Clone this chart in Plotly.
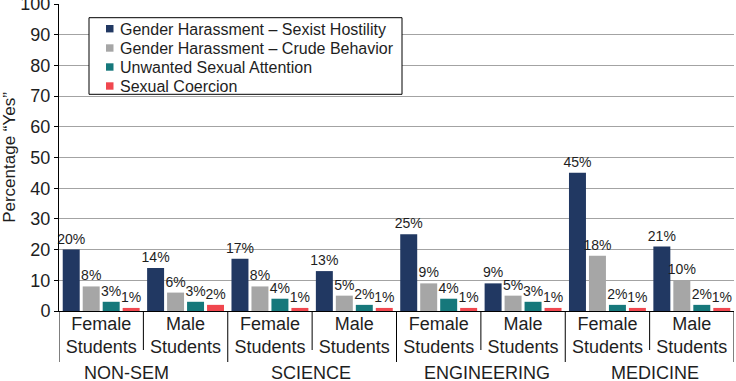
import plotly.graph_objects as go

# ---- data ----
subgroups = ["Female<br>Students", "Male<br>Students"] * 4
fields = ["NON-SEM", "SCIENCE", "ENGINEERING", "MEDICINE"]
series_names = [
    "Gender Harassment – Sexist Hostility",
    "Gender Harassment – Crude Behavior",
    "Unwanted Sexual Attention",
    "Sexual Coercion",
]
sexist_hostility = [20, 14, 17, 13, 25, 9, 45, 21]
crude_behavior = [8, 6, 8, 5, 9, 5, 18, 10]
unwanted_attention = [3, 3, 4, 2, 4, 3, 2, 2]
sexual_coercion = [1, 2, 1, 1, 1, 1, 1, 1]
y_ticks = list(range(0, 101, 10))

# ---- style ----
colors = ["#213862", "#a6a6a6", "#16787b", "#f0474f"]
FONT = "Liberation Sans, Arial, sans-serif"
TXT = "#1e1e1e"
W, H = 736, 381
ML, MR, MT, MB = 59, 2, 4, 70
PW, PH = W - ML - MR, H - MT - MB


def px_x(p):  # page pixel -> paper x
    return (p - ML) / PW


def px_y(p):  # page pixel -> paper y
    return (H - MB - p) / PH


x_pos = list(range(len(subgroups)))
series = [sexist_hostility, crude_behavior, unwanted_attention, sexual_coercion]

fig = go.Figure()
for name, vals, col in zip(series_names, series, colors):
    fig.add_trace(go.Bar(
        x=x_pos, y=vals, name=name, marker=dict(color=col, line=dict(width=0)),
        texttemplate="%{y}%", textposition="outside", constraintext="none",
        cliponaxis=False, textfont=dict(size=14, color=TXT, family=FONT),
        showlegend=False, hoverinfo="skip",
    ))

shapes = []
annotations = []
# separators on the category axis
for i in range(len(subgroups) + 1):
    xv = i - 0.5
    major = (i % 2 == 0)
    shapes.append(dict(type="line", xref="x", yref="paper", x0=xv, x1=xv,
                       y0=0, y1=px_y(362) if major else px_y(350),
                       line=dict(color="black", width=1)))

group_centers = [0.30, 2.49, 4.57, 6.56]
for c, f in zip(group_centers, fields):
    annotations.append(dict(x=c, y=px_y(372.5), xref="x", yref="paper", text=f,
                            showarrow=False, xanchor="center", yanchor="middle",
                            font=dict(size=18, color=TXT, family=FONT)))

# legend box
shapes.append(dict(type="rect", xref="paper", yref="paper",
                   x0=px_x(89), x1=px_x(402), y0=px_y(94.3), y1=px_y(17.7),
                   fillcolor="white", line=dict(color="black", width=1), layer="above"))
row_centers = [28.7, 48, 67, 86]
for name, col, rc in zip(series_names, colors, row_centers):
    shapes.append(dict(type="rect", xref="paper", yref="paper",
                       x0=px_x(106), x1=px_x(113.5), y0=px_y(rc + 3.7), y1=px_y(rc - 3.7),
                       fillcolor=col, line=dict(width=0), layer="above"))
    annotations.append(dict(x=px_x(118), y=px_y(rc + 0.5), xref="paper", yref="paper",
                            text=name, showarrow=False, xanchor="left", yanchor="middle",
                            font=dict(size=16, color=TXT, family=FONT)))

fig.update_layout(
    width=W, height=H,
    margin=dict(l=ML, r=MR, t=MT, b=MB, autoexpand=False),
    paper_bgcolor="white", plot_bgcolor="white",
    font=dict(family=FONT, color=TXT),
    barmode="group", bargap=0.053, bargroupgap=0.15,
    shapes=shapes, annotations=annotations, showlegend=False,
    xaxis=dict(range=[-0.5, 7.5], tickmode="array", tickvals=x_pos,
               ticktext=subgroups, tickfont=dict(size=18, color=TXT),
               showgrid=False, zeroline=False, showline=True,
               linecolor="black", linewidth=1, ticks="", automargin=False,
               ticklabelstandoff=-4),
    yaxis=dict(range=[0, 100], tickmode="array", tickvals=y_ticks,
               tickfont=dict(size=18, color=TXT), showgrid=True,
               gridcolor="#a3a3a3", gridwidth=1, zeroline=False,
               showline=True, linecolor="black", linewidth=1,
               ticks="outside", ticklen=4, tickcolor="black",
               ticklabeloverflow="allow",
               title=dict(text="Percentage “Yes”", font=dict(size=17, color=TXT),
                          standoff=0),
               automargin=False),
)

fig.write_html("out.html", config={"displayModeBar": False},
               post_script="document.body.style.margin='0';document.body.style.overflow='hidden';")
